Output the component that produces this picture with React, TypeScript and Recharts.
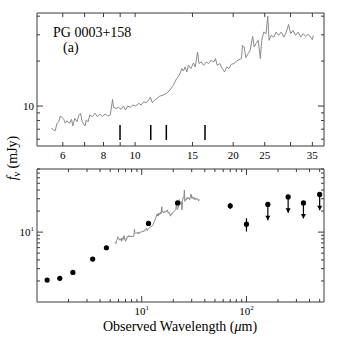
import { ComposedChart, Line, Scatter, XAxis, YAxis, ReferenceLine, ErrorBar } from 'recharts';

// IRS spectrum (observed wavelength in um, flux in mJy)
const specWave = [
  5.53, 5.62, 5.69, 5.75, 5.83, 5.9, 5.96, 6.04, 6.11, 6.18, 6.29, 6.38, 6.44, 6.53, 6.64, 6.72,
  6.8, 6.88, 7.02, 7.08, 7.18, 7.26, 7.39, 7.54, 7.66, 7.79, 7.94, 8.09, 8.23, 8.39, 8.53, 8.59,
  8.74, 8.9, 9.06, 9.21, 9.34, 9.49, 9.66, 9.84, 10.03, 10.27, 10.45, 10.62, 10.83, 11.03, 11.14,
  11.3, 11.49, 11.68, 11.91, 12.19, 12.5, 12.79, 13.1, 13.42, 13.67, 13.91, 14.07, 14.24, 14.42,
  14.58, 14.84, 15.11, 15.3, 15.55, 15.71, 15.94, 16.23, 16.55, 16.82, 17.11, 17.44, 17.65, 17.86,
  18.2, 18.51, 18.82, 19.09, 19.41, 19.74, 20.11, 20.51, 20.84, 21.21, 21.36, 21.61, 21.87, 22.23,
  22.55, 22.95, 23.2, 23.49, 23.88, 24.23, 24.47, 24.82, 25.23, 25.54, 25.78, 26.15, 26.66, 27.1,
  27.55, 28.09, 28.63, 29.11, 29.59, 30.02, 30.54, 31.05, 31.65, 32.25, 32.81, 33.36, 34.01, 34.64,
  34.99, 35.24,
];
const specFlux = [
  7.1, 6.92, 6.84, 7.59, 7.86, 8.58, 8.41, 8.15, 7.67, 7.98, 7.67, 8.15, 7.36, 8.28, 7.86, 8.71,
  8.94, 7.86, 7.36, 8.06, 7.86, 8.71, 8.49, 8.94, 8.49, 8.84, 8.49, 8.84, 8.58, 8.71, 11.08, 9.8,
  9.65, 9.8, 9.51, 10.0, 9.4, 10.0, 9.8, 10.15, 10.0, 10.42, 10.15, 10.68, 10.52, 11.08, 11.43,
  10.52, 10.96, 11.26, 11.66, 11.84, 12.15, 12.78, 13.8, 15.3, 16.09, 17.84, 17.19, 18.28, 16.93,
  18.76, 17.84, 19.44, 18.28, 23.01, 19.26, 19.74, 18.76, 19.74, 19.26, 20.26, 19.74, 20.8, 18.76,
  19.26, 17.84, 16.93, 18.28, 17.84, 19.05, 19.26, 20.04, 20.48, 20.8, 25.51, 24.85, 21.12, 22.45,
  23.62, 29.29, 24.85, 26.18, 27.54, 20.8, 27.54, 31.28, 30.53, 39.99, 27.54, 29.75, 28.97, 31.28,
  29.75, 31.28, 28.97, 31.28, 35.22, 30.53, 32.12, 29.75, 31.28, 28.97, 30.53, 29.29, 30.2, 28.71,
  27.85, 29.75,
];

// redshifted PAH feature markers
const pahWave = [8.99, 11.17, 12.47, 16.39];
const pahLow = [5.93, 5.93, 5.93, 5.93];
const pahHigh = [7.47, 7.47, 7.47, 7.47];

// photometry
const photWave = [1.25, 1.65, 2.2, 3.4, 4.6, 11.6, 22, 70, 100];
const photFlux = [2.06, 2.18, 2.65, 4.11, 5.97, 13.3, 26.2, 23.8, 13.0];
const photErr = [0, 0, 0, 0, 0, 0, 0, 2.3, 2.8];

// upper limits
const limitWave = [160, 250, 350, 500];
const limitFlux = [24.9, 31.9, 26.2, 34.6];
const limitTip = [14.8, 18.9, 15.7, 20.6];

const topXTicks = [6, 7, 8, 9, 10, 15, 20, 25, 30, 35];
const topXLabels = [6, 8, 10, 15, 20, 25, 35];
const topYTicks = [6, 7, 8, 9, 10, 20, 30, 40];
const botXTicks = [2, 3, 4, 5, 6, 7, 8, 9, 10, 20, 30, 40, 50, 60, 70, 80, 90, 100, 200, 300, 400, 500];
const botYTicks = [2, 3, 4, 5, 6, 7, 8, 9, 10, 20, 30, 40, 50, 60, 70, 80];

const FONT = '"Liberation Serif", "DejaVu Serif", serif';
const FRAME = '#3a3a3a';
const SPEC = '#8a8a8a';

const spectrum = specWave.map((x, i) => ({ x, y: specFlux[i] }));
const phot = photWave.map((x, i) => ({ x, y: photFlux[i], err: photErr[i] }));
const limits = limitWave.map((x, i) => ({ x, y: limitFlux[i], err: [limitFlux[i] - limitTip[i], 0] }));
const tips = limitWave.map((x, i) => ({ x, y: limitTip[i] }));

type Side = 'bottom' | 'top' | 'left' | 'right';

const makeTick = (side: Side, len: (v: number) => number, label: (v: number) => any) => (props: any) => {
  const { x, y, payload } = props;
  const v = payload.value;
  const l = len(v);
  const txt = label(v);
  let line;
  if (side === 'bottom') line = <line x1={x} y1={y} x2={x} y2={y - l} stroke={FRAME} />;
  else if (side === 'top') line = <line x1={x} y1={y} x2={x} y2={y + l} stroke={FRAME} />;
  else if (side === 'left') line = <line x1={x} y1={y} x2={x + l} y2={y} stroke={FRAME} />;
  else line = <line x1={x} y1={y} x2={x - l} y2={y} stroke={FRAME} />;
  return (
    <g>
      {line}
      {txt != null && side === 'bottom' && (
        <text x={x} y={y + 13} textAnchor="middle" fontFamily={FONT} fontSize={11} fill="#000">{txt}</text>
      )}
      {txt != null && side === 'left' && (
        <text x={x - 3} y={y + 4} textAnchor="end" fontFamily={FONT} fontSize={11} fill="#000">{txt}</text>
      )}
    </g>
  );
};

const pow = (v: number) => {
  if (v === 10) return [<tspan key="a">10</tspan>, <tspan key="b" dy={-5} fontSize={7}>1</tspan>];
  if (v === 100) return [<tspan key="a">10</tspan>, <tspan key="b" dy={-5} fontSize={7}>2</tspan>];
  return null;
};
const none = () => null;
const decLen = (v: number) => (v === 10 || v === 100 ? 6 : 3);

const ArrowHead = (props: any) => {
  const { cx, cy } = props;
  return <polygon points={`${cx - 2.5},${cy - 4.5} ${cx + 2.5},${cy - 4.5} ${cx},${cy}`} fill="#000" />;
};
const Dot = (props: any) => <circle cx={props.cx} cy={props.cy} r={2.6} fill="#000" />;

const axisCommon = {
  type: 'number' as const,
  scale: 'log' as const,
  allowDataOverflow: true,
  tickSize: 0,
  tickMargin: 0,
  tickLine: false,
  axisLine: { stroke: FRAME },
  interval: 0 as const,
};

export default function App() {
  return (
    <div style={{ position: 'absolute', left: 0, top: 0, width: 339, height: 339, background: '#fff' }}>
      <div style={{ position: 'absolute', left: 0, top: 0 }}>
        <ComposedChart width={339} height={170} margin={{ top: 12, right: 14, bottom: 23, left: 36 }}>
          <XAxis {...axisCommon} dataKey="x" domain={[5, 38]} ticks={topXTicks} height={1}
            tick={makeTick('bottom', () => 4, (v) => (topXLabels.includes(v) ? String(v) : null))} />
          <XAxis {...axisCommon} xAxisId="t" dataKey="x" orientation="top" domain={[5, 38]} ticks={topXTicks} height={1}
            tick={makeTick('top', () => 4, none)} />
          <YAxis {...axisCommon} domain={[5.4, 42]} ticks={topYTicks} width={1}
            tick={makeTick('left', decLen, (v) => (v === 10 ? '10' : null))} />
          <YAxis {...axisCommon} yAxisId="r" orientation="right" domain={[5.4, 42]} ticks={topYTicks} width={1}
            tick={makeTick('right', decLen, none)} />
          <Line data={spectrum} dataKey="y" type="linear" stroke={SPEC} strokeWidth={1} dot={false} isAnimationActive={false} />
          {pahWave.map((w, i) => (
            <ReferenceLine key={w} segment={[{ x: w, y: pahLow[i] }, { x: w, y: pahHigh[i] }]} stroke="#000" strokeWidth={1.5} />
          ))}
        </ComposedChart>
      </div>
      <div style={{ position: 'absolute', left: 0, top: 160 }}>
        <ComposedChart width={339} height={179} margin={{ top: 8, right: 14, bottom: 36, left: 36 }}>
          <XAxis {...axisCommon} dataKey="x" domain={[1, 550]} ticks={botXTicks} height={1}
            tick={makeTick('bottom', decLen, pow)} />
          <XAxis {...axisCommon} xAxisId="t" dataKey="x" orientation="top" domain={[1, 550]} ticks={botXTicks} height={1}
            tick={makeTick('top', decLen, none)} />
          <YAxis {...axisCommon} domain={[1, 80]} ticks={botYTicks} width={1}
            tick={makeTick('left', decLen, pow)} />
          <YAxis {...axisCommon} yAxisId="r" orientation="right" domain={[1, 80]} ticks={botYTicks} width={1}
            tick={makeTick('right', decLen, none)} />
          <Line data={spectrum} dataKey="y" type="linear" stroke={SPEC} strokeWidth={1} dot={false} isAnimationActive={false} />
          <Scatter data={phot} dataKey="y" shape={Dot} isAnimationActive={false}>
            <ErrorBar dataKey="err" direction="y" width={0} stroke="#000" strokeWidth={1.2} />
          </Scatter>
          <Scatter data={limits} dataKey="y" shape={Dot} isAnimationActive={false}>
            <ErrorBar dataKey="err" direction="y" width={0} stroke="#000" strokeWidth={1.2} />
          </Scatter>
          <Scatter data={tips} dataKey="y" shape={ArrowHead} isAnimationActive={false} />
        </ComposedChart>
      </div>
      <svg width={339} height={339} style={{ position: 'absolute', left: 0, top: 0, pointerEvents: 'none' }}>
        <text x={53} y={37} fontFamily={FONT} fontSize={14} fill="#000">PG 0003+158</text>
        <text x={63} y={52} fontFamily={FONT} fontSize={14} fill="#000">(a)</text>
        <text transform="translate(17,158) rotate(-90)" textAnchor="middle" fontFamily={FONT} fontSize={14} fill="#000">
          <tspan fontStyle="italic">f</tspan>
          <tspan fontSize={10} dy={3}>ν</tspan>
          <tspan dy={-3}> (mJy)</tspan>
        </text>
        <text x={180} y={331} textAnchor="middle" fontFamily={FONT} fontSize={14} fill="#000">
          Observed Wavelength (<tspan fontStyle="italic">μ</tspan>m)
        </text>
      </svg>
    </div>
  );
}
